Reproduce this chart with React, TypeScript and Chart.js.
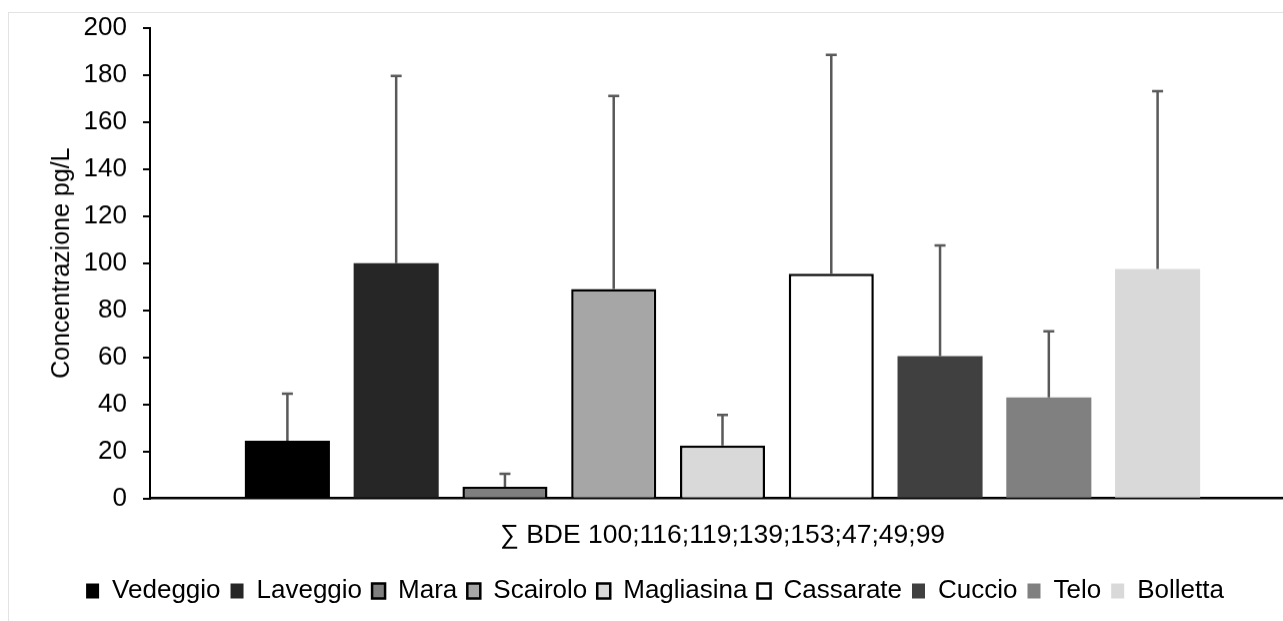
import React, { useEffect, useRef } from "react";
import { Chart, registerables } from "chart.js";

Chart.register(...registerables);

const categories = ["∑ BDE 100;116;119;139;153;47;49;99"];
const seriesNames = ["Vedeggio", "Laveggio", "Mara", "Scairolo", "Magliasina", "Cassarate", "Cuccio", "Telo", "Bolletta"];
const seriesValues = [24.5, 100, 5, 89, 22.5, 95.5, 60.5, 43, 97.5];
const seriesErrors = [20, 79.5, 5.5, 82, 13, 93, 47, 28, 75.5];
const fillColors = ["#000000", "#262626", "#7f7f7f", "#a6a6a6", "#d9d9d9", "#ffffff", "#404040", "#808080", "#d9d9d9"];
const hasBorder = [false, false, true, true, true, true, false, false, false];
const yTicks = { min: 0, max: 200, step: 20 };

const FONT = "'Liberation Sans', Arial, sans-serif";

const errorBarPlugin = {
  id: "errorBars",
  afterDatasetsDraw(chart: any) {
    const ctx = chart.ctx;
    const yScale = chart.scales.y;
    ctx.save();
    ctx.strokeStyle = "#595959";
    ctx.lineWidth = 2.5;
    chart.data.datasets.forEach((ds: any, i: number) => {
      const meta = chart.getDatasetMeta(i);
      const el = meta.data[0];
      if (!el) return;
      const v = ds.data[0];
      const top = yScale.getPixelForValue(v + seriesErrors[i]);
      const base = yScale.getPixelForValue(v);
      ctx.beginPath();
      ctx.moveTo(el.x, base);
      ctx.lineTo(el.x, top);
      ctx.moveTo(el.x - 5.5, top);
      ctx.lineTo(el.x + 5.5, top);
      ctx.stroke();
    });
    ctx.restore();
  },
};

const legendShiftPlugin = {
  id: "legendShift",
  afterLayout(chart: any) {
    if (chart.legend) {
      chart.legend.left -= 14;
      chart.legend.right -= 14;
      chart.legend.top -= 4.5;
      chart.legend.bottom -= 4.5;
    }
  },
};

export default function App() {
  const ref = useRef<HTMLCanvasElement | null>(null);

  useEffect(() => {
    document.documentElement.style.overflow = "hidden";
    if (!ref.current) return;
    const chart = new Chart(ref.current, {
      type: "bar",
      data: {
        labels: categories,
        datasets: seriesNames.map((name, i) => ({
          label: name,
          data: [seriesValues[i]],
          backgroundColor: fillColors[i],
          borderColor: "#000000",
          borderWidth: hasBorder[i] ? 2.5 : 0,
          borderSkipped: "start",
          categoryPercentage: 0.855,
          barPercentage: 0.782,
        })),
      },
      options: {
        animation: false,
        responsive: true,
        maintainAspectRatio: false,
        layout: { padding: { left: 34, right: 0, top: 0, bottom: 0 } },
        color: "#000",
        plugins: {
          legend: {
            position: "bottom",
            labels: {
              font: { family: FONT, size: 26 },
              color: "#000",
              boxWidth: 13,
              boxHeight: 15,
              padding: 10,
            },
          },
          tooltip: { enabled: false },
        },
        scales: {
          x: {
            grid: { display: false, drawTicks: false },
            border: { display: true, color: "#000", width: 2.5 },
            ticks: { font: { family: FONT, size: 26.5 }, color: "#000", padding: 21 },
          },
          y: {
            min: yTicks.min,
            max: yTicks.max,
            ticks: { stepSize: yTicks.step, font: { family: FONT, size: 26 }, color: "#000", padding: 16 },
            grid: { drawOnChartArea: false, color: "#000", lineWidth: 2, tickLength: 7 },
            border: { display: true, color: "#000", width: 2 },
            title: {
              display: true,
              text: "Concentrazione pg/L",
              font: { family: FONT, size: 25 },
              color: "#000",
              padding: { top: 4, bottom: 4 },
            },
            afterFit(scale: any) {
              scale.width = 107;
            },
          },
        },
      },
      plugins: [errorBarPlugin, legendShiftPlugin],
    });
    return () => chart.destroy();
  }, []);

  return (
    <div
      style={{
        position: "absolute",
        left: 8,
        top: 12,
        width: 1275,
        height: 609,
        overflow: "hidden",
        borderTop: "1px solid #e3e3e3",
        borderLeft: "1px solid #e3e3e3",
        boxSizing: "border-box",
        background: "#fff",
      }}
    >
      <div style={{ position: "absolute", left: 0, top: -17, width: 1286, height: 621.5 }}>
        <canvas ref={ref} />
      </div>
    </div>
  );
}
